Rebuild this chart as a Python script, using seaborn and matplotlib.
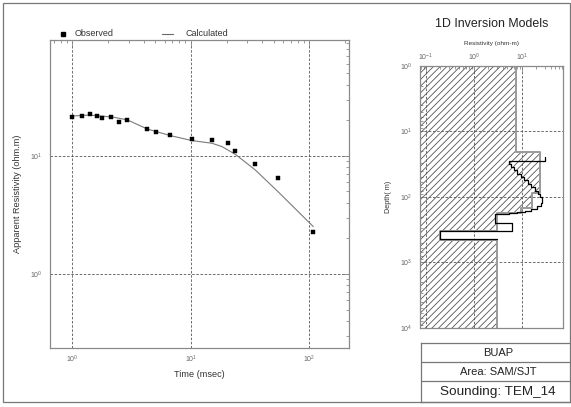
import numpy as np
import pandas as pd
import matplotlib
matplotlib.use("Agg")
import matplotlib.pyplot as plt
from matplotlib.lines import Line2D
from matplotlib.patches import Rectangle
from matplotlib.ticker import LogLocator, NullFormatter
import seaborn as sns

# ---------------- data ----------------
obs_time = [1.0, 1.21, 1.40, 1.61, 1.79, 2.11, 2.48, 2.91, 4.30, 5.06, 6.67,
            10.2, 15.1, 20.7, 23.8, 35.0, 54.4, 108]
obs_rho = [21.5, 21.7, 22.6, 21.8, 20.9, 21.5, 19.3, 20.2, 16.9, 16.1, 15.1,
           13.9, 13.6, 12.8, 11.1, 8.55, 6.47, 2.28]
calc_time = [1.0, 1.41, 2.22, 2.91, 4.3, 6.67, 10.2, 15.1, 18.3, 23.8, 35.0, 54.4, 108]
calc_rho = [21.8, 22.2, 21.3, 20.2, 16.9, 14.9, 13.5, 12.8, 12.0, 10.3, 7.6, 4.98, 2.52]

# layered model (hatched)
layer_rho = [7.7, 24, 16.7, 9.5, 3.0, 0.2, 3.1]
layer_depth = [1, 20.8, 87, 147, 176, 330, 453, 10000]
# smooth (multi-layer) model, black line
smooth_rho = [30, 5.4, 6.0, 6.8, 8.1, 9.5, 11.3, 13.5, 16, 19, 21.5, 24, 26, 27,
              25, 21, 16, 12, 8, 5.5, 2.8, 6.4, 0.2, 3.1]
smooth_depth = [25, 28, 31, 35, 39, 44, 50, 56, 63, 71, 80, 90, 101, 112, 125,
                138, 152, 162, 170, 176, 182, 252, 327, 442, 10000]

info_lines = ["BUAP", "Area: SAM/SJT", "Sounding: TEM_14"]

# ---------------- style ----------------
sns.set_theme(style="white")
plt.rcParams["font.family"] = ["Liberation Sans", "DejaVu Sans"]
plt.rcParams["mathtext.fontset"] = "custom"
plt.rcParams["mathtext.rm"] = "Liberation Sans"
plt.rcParams["mathtext.it"] = "Liberation Sans:italic"
plt.rcParams["hatch.linewidth"] = 0.6

W, H = 571, 407
fig = plt.figure(figsize=(W / 100, H / 100), dpi=100)
fig.patch.set_facecolor("white")


def fr(x0, y0, x1, y1):
    return [x0 / W, 1 - y1 / H, (x1 - x0) / W, (y1 - y0) / H]


spine_c = "#8a8a8a"
grid_c = "#555555"
tick_c = "#666666"
text_c = "#333333"


def style_log_axes(ax):
    for s in ax.spines.values():
        s.set_color(spine_c)
        s.set_linewidth(0.9)
    for axis in (ax.xaxis, ax.yaxis):
        axis.set_major_locator(LogLocator(base=10, numticks=20))
        axis.set_minor_locator(LogLocator(base=10, subs=np.arange(2, 10), numticks=20))
        axis.set_minor_formatter(NullFormatter())
    ax.tick_params(which="both", direction="in", colors=spine_c, labelcolor=tick_c,
                   labelsize=5, top=True, right=True, width=0.6)
    ax.tick_params(which="major", length=4)
    ax.tick_params(which="minor", length=2.5)
    ax.grid(True, which="major", color=grid_c, linestyle=(0, (3, 2)), linewidth=0.6)


# ---------------- left panel ----------------
ax = fig.add_axes(fr(50, 40, 349, 348))
df_obs = pd.DataFrame({"t": obs_time, "rho": obs_rho})
df_calc = pd.DataFrame({"t": calc_time, "rho": calc_rho})
sns.lineplot(data=df_calc, x="t", y="rho", ax=ax, color="#7a7a7a", linewidth=0.8,
             sort=False, estimator=None)
sns.scatterplot(data=df_obs, x="t", y="rho", ax=ax, marker="s", s=12, color="black",
                edgecolor="black", linewidth=0.3, zorder=5)
ax.set_xscale("log")
ax.set_yscale("log")
ax.set_xlim(0.648, 216)
ax.set_ylim(0.236, 96)
style_log_axes(ax)
ax.tick_params(axis="x", which="major", pad=4)
ax.tick_params(axis="y", which="major", pad=5.5)
ax.set_xlabel("Time (msec)", fontsize=6.6, color=text_c, labelpad=4)
ax.set_ylabel("Apparent Resistivity (ohm.m)", fontsize=6.6, color=text_c, labelpad=6)

# legend (manual, above axes)
ly = 1 - 34 / H
fig.add_artist(Line2D([63 / W], [ly], marker="s", markersize=3.2, color="black",
                      linestyle="none", transform=fig.transFigure))
fig.text(75 / W, ly, "Observed", fontsize=6.5, color=text_c, va="center", ha="left")
fig.add_artist(Line2D([162 / W, 173 / W], [ly, ly], color="#666666", linewidth=0.8,
                      transform=fig.transFigure))
fig.text(186 / W, ly, "Calculated", fontsize=6.5, color=text_c, va="center", ha="left")

# ---------------- right panel ----------------
ax2 = fig.add_axes(fr(420, 66, 563.3, 327.7))
x_left = 0.075
lx = np.repeat(layer_rho, 2)
ld = np.column_stack([layer_depth[:-1], layer_depth[1:]]).ravel()
ax2.fill_betweenx(ld, x_left, lx, facecolor="none", edgecolor="#555555",
                  hatch="/////", linewidth=0, zorder=1)
df_layer = pd.DataFrame({"rho": lx, "depth": ld})
sns.lineplot(data=df_layer, x="rho", y="depth", ax=ax2, sort=False, estimator=None,
             color="#9a9a9a", linewidth=1.4, zorder=2)
sx = np.repeat(smooth_rho, 2)
sd = np.column_stack([smooth_depth[:-1], smooth_depth[1:]]).ravel()
df_smooth = pd.DataFrame({"rho": sx[:-1], "depth": sd[:-1]})
sns.lineplot(data=df_smooth, x="rho", y="depth", ax=ax2, sort=False, estimator=None,
             color="black", linewidth=0.9, zorder=3)
ax2.set_xscale("log")
ax2.set_yscale("log")
ax2.set_xlim(x_left, 74)
ax2.set_ylim(10000, 1)
style_log_axes(ax2)
ax2.xaxis.tick_top()
ax2.xaxis.set_label_position("top")
ax2.tick_params(which="both", bottom=False, right=False, top=True, left=True)
ax2.tick_params(axis="x", which="major", pad=2)
ax2.tick_params(axis="y", which="major", pad=5.5)
ax2.set_xlabel("Resistivity (ohm-m)", fontsize=4.6, color=text_c, labelpad=5)
ax2.set_ylabel("Depth( m)", fontsize=5.2, color=text_c, labelpad=6)

fig.text(491.7 / W, 1 - 24 / H, "1D Inversion Models", fontsize=8.9, color="#222222",
         ha="center", va="center")

# ---------------- info table ----------------
ax3 = fig.add_axes(fr(420.7, 342.7, 576, 402))
ax3.set_xlim(0, 1)
ax3.set_ylim(0, 1)
ax3.set_xticks([])
ax3.set_yticks([])
for s in ax3.spines.values():
    s.set_color("#777777")
    s.set_linewidth(0.9)
for yy in (0.669, 0.359):
    ax3.axhline(yy, color="#777777", linewidth=0.9)
cx = (498.3 - 420.7) / (576 - 420.7)
for txt, yy, fs in zip(info_lines, (0.821, 0.50, 0.164), (8, 8, 9.7)):
    ax3.text(cx, yy, txt, fontsize=fs, color="#222222", ha="center", va="center")

# outer frame
fig.add_artist(Rectangle((3 / W, 1 - 402 / H), (569.5 - 3) / W, (402 - 3) / H,
                         transform=fig.transFigure, fill=False, edgecolor="#777777",
                         linewidth=0.9))

fig.savefig("out.png", dpi=100)
